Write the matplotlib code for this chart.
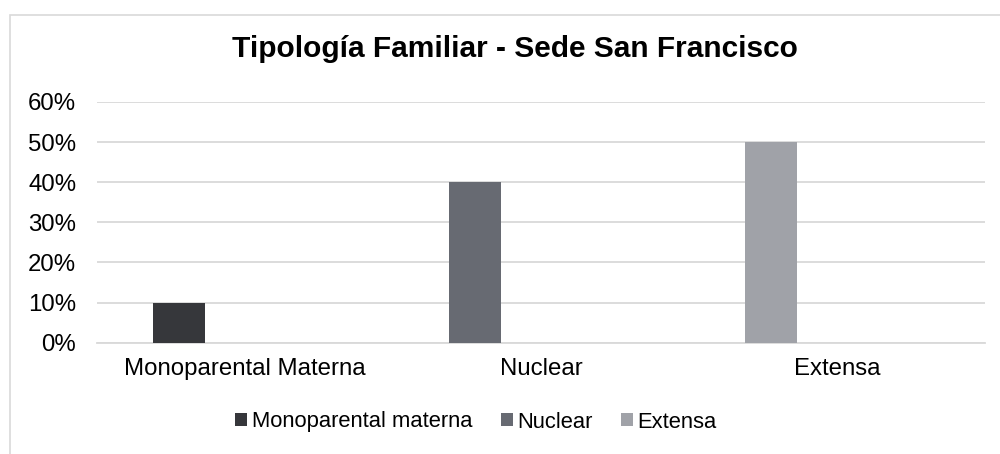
import numpy as np
import matplotlib.pyplot as plt
from matplotlib.patches import Rectangle
from matplotlib.ticker import PercentFormatter

plt.rcParams['font.family'] = ['Liberation Sans', 'DejaVu Sans']

categories = ['Monoparental Materna', 'Nuclear', 'Extensa']
series_names = ['Monoparental materna', 'Nuclear', 'Extensa']
# cada serie solo tiene valor en su propia categoría
series_values = [
    [0.10, 0.0, 0.0],
    [0.0, 0.40, 0.0],
    [0.0, 0.0, 0.50],
]
colors = ['#36373b', '#676a72', '#a0a2a8']
title = 'Tipología Familiar - Sede San Francisco'

fig = plt.figure(figsize=(10, 4.54), dpi=100)
# borde del área del gráfico (recortado a la derecha y abajo)
fig.patches.append(Rectangle((0.010, -0.1), 1.2, 1.1 - 15/454, transform=fig.transFigure,
                             fill=False, edgecolor='#d9d9d9', lw=1.2))

ax = fig.add_axes([0.097, 1 - 342.7/454, 0.888, (342.7 - 102)/454])

x = np.arange(len(categories))
bw = 0.176
for k in range(len(series_names)):
    vals = np.array(series_values[k])
    mask = vals > 0
    ax.bar(x[mask] - 0.223, vals[mask], width=bw, color=colors[k], label=series_names[k], zorder=3)

ax.set_xlim(-0.5, 2.5)
ax.set_ylim(0, 0.6)
ax.set_yticks(np.arange(0, 0.61, 0.1))
ax.yaxis.set_major_formatter(PercentFormatter(1.0, decimals=0))
ax.set_xticks(x)
ax.set_xticklabels(categories)
ax.grid(axis='y', color='#d9d9d9', lw=1.3, zorder=0)
for s in ['top', 'right', 'left']:
    ax.spines[s].set_visible(False)
ax.spines['bottom'].set_color('#d9d9d9')
ax.spines['bottom'].set_linewidth(1.3)
ax.tick_params(axis='both', length=0, labelsize=17.3, colors='#000000')
ax.tick_params(axis='y', pad=15)
ax.tick_params(axis='x', pad=11)

fig.text(0.515, 1 - 57/454, title, ha='center', va='baseline', fontsize=21.5, fontweight='bold')

leg_size = 15.8
handle_sz = 12 * 0.72 / leg_size
fig.legend(loc='center', bbox_to_anchor=(0.476, 1 - 422/454), ncol=3, frameon=False,
           fontsize=leg_size, handlelength=handle_sz, handleheight=handle_sz,
           handletextpad=0.2, columnspacing=1.3)

fig.savefig('out.png', dpi=100)
